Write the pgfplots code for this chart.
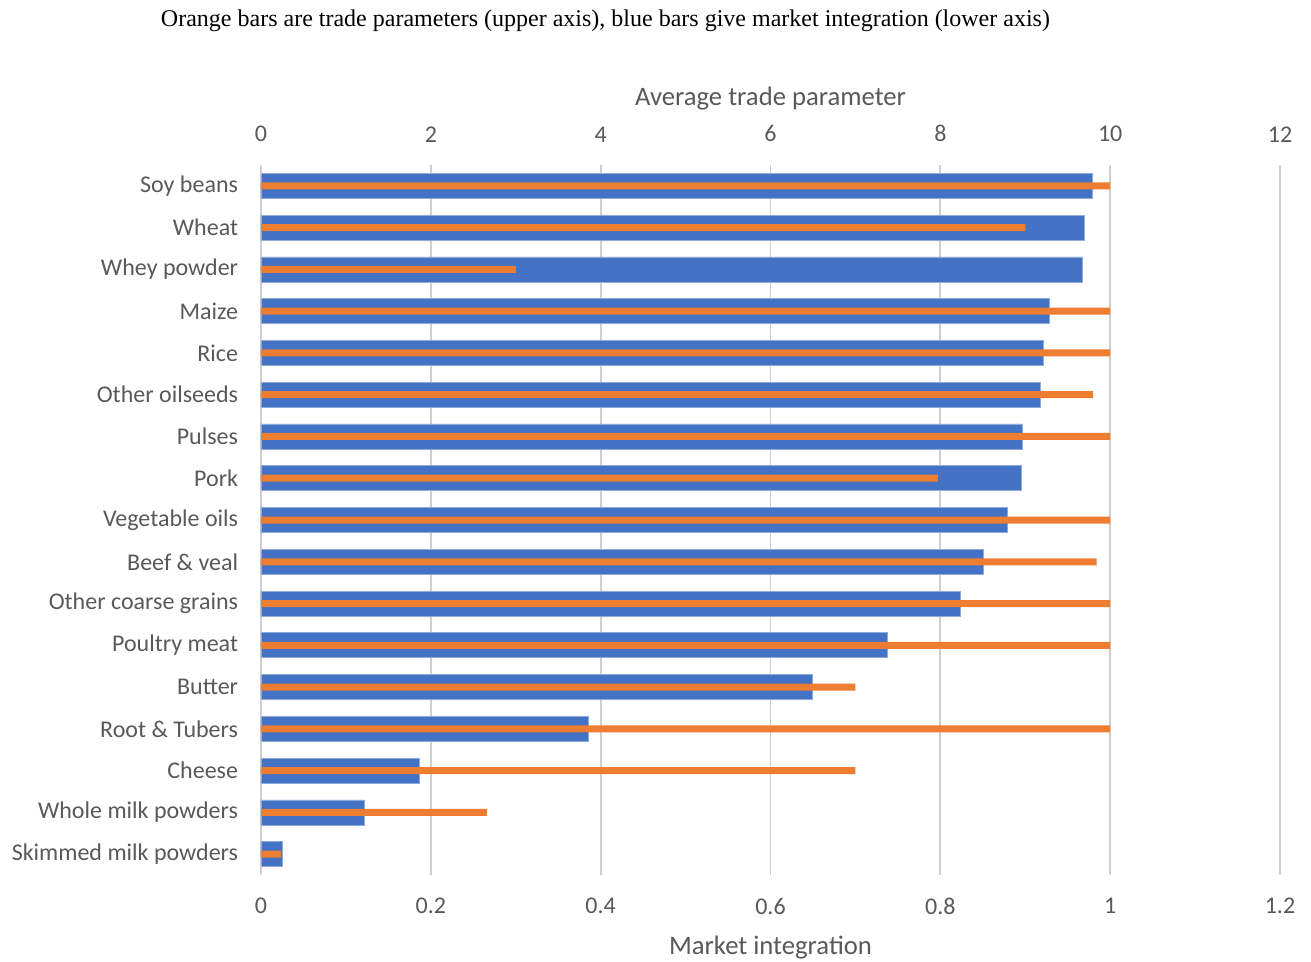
\documentclass[border=0pt]{standalone}
\usepackage{pgfplots}
\pgfplotsset{compat=1.18}
\usepackage{fontspec}
\setmainfont{Carlito}
\newfontfamily\timesfont{Liberation Serif}
\definecolor{xblue}{HTML}{4472C4}
\definecolor{xblueedge}{HTML}{8FAADC}
\definecolor{xorange}{HTML}{ED7D31}
\definecolor{txt}{HTML}{595959}
\definecolor{grd}{HTML}{CFCFCF}
\begin{document}
\begin{tikzpicture}
\path[use as bounding box] (0,0) rectangle (983.25pt,720.75pt);
\pgfplotsset{common/.style={
  scale only axis, width=764.25pt, height=532.5pt,
  at={(195.75pt,64.5pt)}, anchor=south west,
  ymin=-0.5, ymax=16.5, y dir=reverse,
  axis line style={draw=none}, major tick length=0pt,
  tick label style={font=\fontsize{18}{21}\selectfont, text=txt},
  label style={font=\fontsize{20}{23}\selectfont, text=txt},
  /pgf/number format/assume math mode=true,
  xbar, clip=false}}
\begin{axis}[common,
  xmin=0, xmax=1.2,
  xtick={0,0.2,0.4,0.6,0.8,1,1.2},
  xticklabel style={inner sep=0pt, yshift=-17pt},
  ytick={0,...,16},
  yticklabels={Soy beans, Wheat, Whey powder, Maize, Rice, Other oilseeds, Pulses, Pork, Vegetable oils, Beef \& veal, Other coarse grains, Poultry meat, Butter, Root \& Tubers, Cheese, Whole milk powders, Skimmed milk powders},
  yticklabel style={inner sep=0pt, xshift=-17pt},
  xmajorgrids, grid style={grd, line width=1.3pt},
  xlabel={Market integration},
  xlabel style={at={(axis description cs:0.5,0)}, anchor=center, yshift=-54.5pt},
]
\addplot[fill=xblue, draw=xblueedge, line width=0.5pt, bar width=18.75pt] coordinates {
(0.979,0) (0.970,1) (0.967,2) (0.928,3) (0.921,4) (0.918,5) (0.897,6) (0.895,7)
(0.879,8) (0.851,9) (0.824,10) (0.738,11) (0.649,12) (0.386,13) (0.186,14) (0.122,15) (0.025,16)};
\end{axis}
\begin{axis}[common,
  xmin=0, xmax=12,
  xtick={0,2,4,6,8,10,12},
  xticklabel pos=upper,
  xticklabel style={inner sep=0pt, yshift=17pt},
  ytick=\empty,
  xlabel={Average trade parameter},
  xlabel style={at={(axis description cs:0.5,1)}, anchor=center, yshift=49.5pt},
]
\addplot[fill=xorange, draw=none, bar width=5.25pt] coordinates {
(10,0) (9,1) (3,2) (10,3) (10,4) (9.80,5) (10,6) (7.97,7)
(10,8) (9.84,9) (10,10) (10,11) (7,12) (10,13) (7,14) (2.66,15) (0.235,16)};
\end{axis}
\node[font=\timesfont\fontsize{18}{21}\selectfont, anchor=center] at (454.1pt,705pt) {Orange bars are trade parameters (upper axis), blue bars give market integration (lower axis)};
\end{tikzpicture}
\end{document}
